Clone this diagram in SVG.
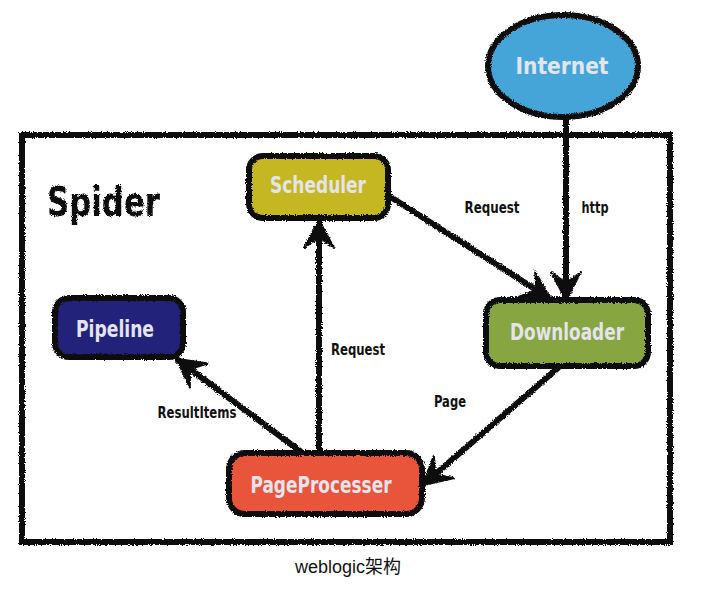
<svg xmlns="http://www.w3.org/2000/svg" width="723" height="604" viewBox="0 0 723 604">
<style>
.edge{fill:none;stroke:#111;stroke-width:6;stroke-linecap:round}
.node{stroke:#111;stroke-width:6}
.nl{font-family:"DejaVu Sans Condensed","DejaVu Sans",sans-serif;font-stretch:condensed;font-weight:bold;font-size:23px;fill:#e4e4ec;text-anchor:middle;dominant-baseline:central}
.el{font-family:"DejaVu Sans Condensed","DejaVu Sans",sans-serif;font-stretch:condensed;font-weight:bold;font-size:15px;fill:#111;text-anchor:middle;dominant-baseline:central}
</style>
<defs>
<filter id="rough" x="-10%" y="-10%" width="120%" height="120%">
<feTurbulence type="fractalNoise" baseFrequency="0.9" numOctaves="2" seed="3"/>
<feDisplacementMap in="SourceGraphic" scale="3.5" xChannelSelector="R" yChannelSelector="G"/>
</filter>
<marker id="arr" markerUnits="userSpaceOnUse" markerWidth="40" markerHeight="40" viewBox="-30 -20 40 40" refX="0" refY="0" orient="auto">
<path d="M2,0 L-26,-15 L-15,0 L-26,15 Z" fill="#111" stroke="#111" stroke-width="2" stroke-linejoin="round"/>
</marker>
</defs>
<rect width="723" height="604" fill="#fff"/>
<g id="spider-frame" filter="url(#rough)">
<rect x="22" y="135" width="648" height="407" fill="none" stroke="#111" stroke-width="6"/>
<text x="47" y="202" font-family="DejaVu Sans Condensed,DejaVu Sans,sans-serif" font-weight="bold" font-size="40" fill="#111" dominant-baseline="central" textLength="113" lengthAdjust="spacingAndGlyphs">Spider</text>
</g>
<g id="connectors" filter="url(#rough)">
<path class="edge" d="M566,118 L566,298" marker-end="url(#arr)"/>
<path class="edge" d="M389,196 L549,298" marker-end="url(#arr)"/>
<path class="edge" d="M558,368 L424,484" marker-end="url(#arr)"/>
<path class="edge" d="M319,450 L319,222" marker-end="url(#arr)"/>
<path class="edge" d="M300,451 L178,360" marker-end="url(#arr)"/>
</g>
<g id="edge-labels">
<text class="el" x="492" y="208" textLength="55" lengthAdjust="spacingAndGlyphs">Request</text>
<text class="el" x="595" y="208" textLength="27" lengthAdjust="spacingAndGlyphs">http</text>
<text class="el" x="358" y="350" textLength="54" lengthAdjust="spacingAndGlyphs">Request</text>
<text class="el" x="450" y="402" textLength="32" lengthAdjust="spacingAndGlyphs">Page</text>
<text class="el" x="197" y="413" textLength="79" lengthAdjust="spacingAndGlyphs">ResultItems</text>
</g>
<g id="internet">
<ellipse class="node" cx="563" cy="66" rx="75" ry="51" fill="#45a5d8" filter="url(#rough)"/>
<text class="nl" x="562" y="66" font-size="26" textLength="93" lengthAdjust="spacingAndGlyphs">Internet</text>
</g>
<g id="scheduler">
<rect class="node" x="249" y="156" width="139" height="62" rx="14" fill="#c4b724" filter="url(#rough)"/>
<text class="nl" x="318" y="185" textLength="96" lengthAdjust="spacingAndGlyphs">Scheduler</text>
</g>
<g id="pipeline">
<rect class="node" x="55" y="298" width="128" height="59" rx="14" fill="#22247a" filter="url(#rough)"/>
<text class="nl" x="115" y="329" textLength="78" lengthAdjust="spacingAndGlyphs">Pipeline</text>
</g>
<g id="downloader">
<rect class="node" x="486" y="300" width="162" height="66" rx="14" fill="#87a53f" filter="url(#rough)"/>
<text class="nl" x="567" y="332" textLength="114" lengthAdjust="spacingAndGlyphs">Downloader</text>
</g>
<g id="pageprocesser">
<rect class="node" x="229" y="453" width="193" height="61" rx="16" fill="#e8553a" filter="url(#rough)"/>
<text class="nl" x="321" y="485" textLength="141" lengthAdjust="spacingAndGlyphs">PageProcesser</text>
</g>
<text x="348" y="567" font-family="Liberation Sans,Noto Sans CJK SC,sans-serif" font-size="18" fill="#111" text-anchor="middle" dominant-baseline="central">weblogic架构</text>
</svg>
